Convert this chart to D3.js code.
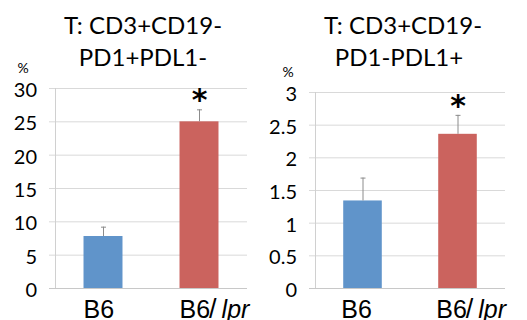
<!DOCTYPE html>
<html>
<head>
<meta charset="utf-8">
<script src="https://cdn.jsdelivr.net/npm/d3@7"></script>
<style>
  body { margin: 0; background: #fff; }
  svg { display: block; }
  .tick text { font-family: Lato, sans-serif; font-size: 20px; fill: #000; }
  .title { font-family: Lato, sans-serif; font-size: 24px; fill: #000; }
  .cat { font-family: "Liberation Sans", Arial, sans-serif; font-size: 25px; fill: #000; }
</style>
</head>
<body>
<div id="chart"></div>
<script>
// data
var groups = ["B6", "B6/lpr"];
var colors = ["#6094ca", "#cb635e"];

var leftTitle = ["T: CD3+CD19-", "PD1+PDL1-"];
var leftValues = [7.8, 25.0];
var leftErrors = [1.4, 1.8];
var leftTicks = [0, 5, 10, 15, 20, 25, 30];
var leftStars = ["", "*"];

var rightTitle = ["T: CD3+CD19-", "PD1-PDL1+"];
var rightValues = [1.34, 2.36];
var rightErrors = [0.35, 0.29];
var rightTicks = [0, 0.5, 1, 1.5, 2, 2.5, 3];
var rightStars = ["", "*"];

var svg = d3.select("#chart").append("svg")
    .attr("width", 527)
    .attr("height", 320);

function panel(opt) {
    var g = svg.append("g");

    var x = d3.scaleBand()
        .domain(groups)
        .range([opt.left, opt.right])
        .paddingInner(0.594)
        .paddingOuter(0.297);

    var y = d3.scaleLinear()
        .domain([0, opt.max])
        .range([288, opt.top]);

    // gridlines + tick labels
    var axis = g.append("g")
        .attr("transform", "translate(" + opt.left + ",0)")
        .call(d3.axisLeft(y)
            .tickValues(opt.ticks)
            .tickSize(-(opt.right - opt.left))
            .tickSizeOuter(0)
            .tickPadding(18)
            .tickFormat(d3.format("")));
    axis.select(".domain").remove();
    axis.selectAll(".tick line")
        .attr("x1", -6)
        .attr("stroke", "#d9d9d9");
    axis.selectAll(".tick text").attr("dy", "0.42em");

    // vertical axis + baseline
    g.append("line")
        .attr("x1", opt.left + 0.5).attr("x2", opt.left + 0.5)
        .attr("y1", y(opt.max)).attr("y2", y(0))
        .attr("stroke", "#d0d0d0");
    g.append("line")
        .attr("x1", opt.left - 6).attr("x2", opt.right)
        .attr("y1", y(0) + 0.5).attr("y2", y(0) + 0.5)
        .attr("stroke", "#c8c8c8");

    // bars
    g.selectAll("rect.bar")
        .data(opt.values)
        .enter().append("rect")
        .attr("class", "bar")
        .attr("x", function(d, i) { return x(groups[i]); })
        .attr("width", x.bandwidth())
        .attr("y", function(d) { return y(d); })
        .attr("height", function(d) { return y(0) - y(d); })
        .attr("fill", function(d, i) { return colors[i]; });

    // error bars
    var eb = g.selectAll("g.err")
        .data(opt.values)
        .enter().append("g")
        .attr("class", "err")
        .attr("transform", function(d, i) {
            return "translate(" + (x(groups[i]) + x.bandwidth() / 2 + 0.5) + ",0)";
        });
    eb.append("line")
        .attr("y1", function(d) { return y(d); })
        .attr("y2", function(d, i) { return y(d + opt.errors[i]); })
        .attr("stroke", "#8c8c8c");
    eb.append("line")
        .attr("x1", -2.5).attr("x2", 2.5)
        .attr("y1", function(d, i) { return y(d + opt.errors[i]) + 0.5; })
        .attr("y2", function(d, i) { return y(d + opt.errors[i]) + 0.5; })
        .attr("stroke", "#8c8c8c");

    // significance stars
    eb.append("text")
        .attr("y", function(d, i) { return y(d + opt.errors[i]) + 1; })
        .attr("text-anchor", "middle")
        .style("font-family", "DejaVu Sans, sans-serif")
        .style("font-weight", "bold")
        .style("font-size", "30px")
        .text(function(d, i) { return opt.stars[i]; });

    // title
    g.selectAll("text.title")
        .data(opt.title)
        .enter().append("text")
        .attr("class", "title")
        .attr("x", function(d, i) { return opt.titleX[i]; })
        .attr("y", function(d, i) { return 34 + i * 32; })
        .attr("text-anchor", "middle")
        .text(function(d) { return d; });

    // unit
    g.append("text")
        .attr("x", opt.pctX)
        .attr("y", opt.pctY)
        .attr("text-anchor", "middle")
        .style("font-family", "Lato, sans-serif")
        .style("font-size", "14px")
        .text("%");

    // category labels (mutant name in italics)
    var cat = g.selectAll("text.cat")
        .data(groups)
        .enter().append("text")
        .attr("class", "cat")
        .attr("x", function(d) { return x(d) + opt.catShift; })
        .attr("y", 318);
    cat.each(function(d) {
        var t = d3.select(this);
        var parts = d.split("/");
        t.append("tspan").text(parts[0]);
        if (parts.length > 1) {
            t.append("tspan").attr("dx", -1).style("font-size", "27px").text("/");
            t.append("tspan").attr("dx", 5).style("font-style", "italic").text(parts[1]);
        }
    });
}

panel({
    left: 55, right: 247, top: 88, max: 30,
    ticks: leftTicks, values: leftValues, errors: leftErrors, stars: leftStars,
    title: leftTitle, titleX: [143, 143], pctX: 23, pctY: 73, catShift: 0
});

panel({
    left: 315, right: 505, top: 92, max: 3,
    ticks: rightTicks, values: rightValues, errors: rightErrors, stars: rightStars,
    title: rightTitle, titleX: [403, 399], pctX: 288, pctY: 77, catShift: -2
});
</script>
</body>
</html>
